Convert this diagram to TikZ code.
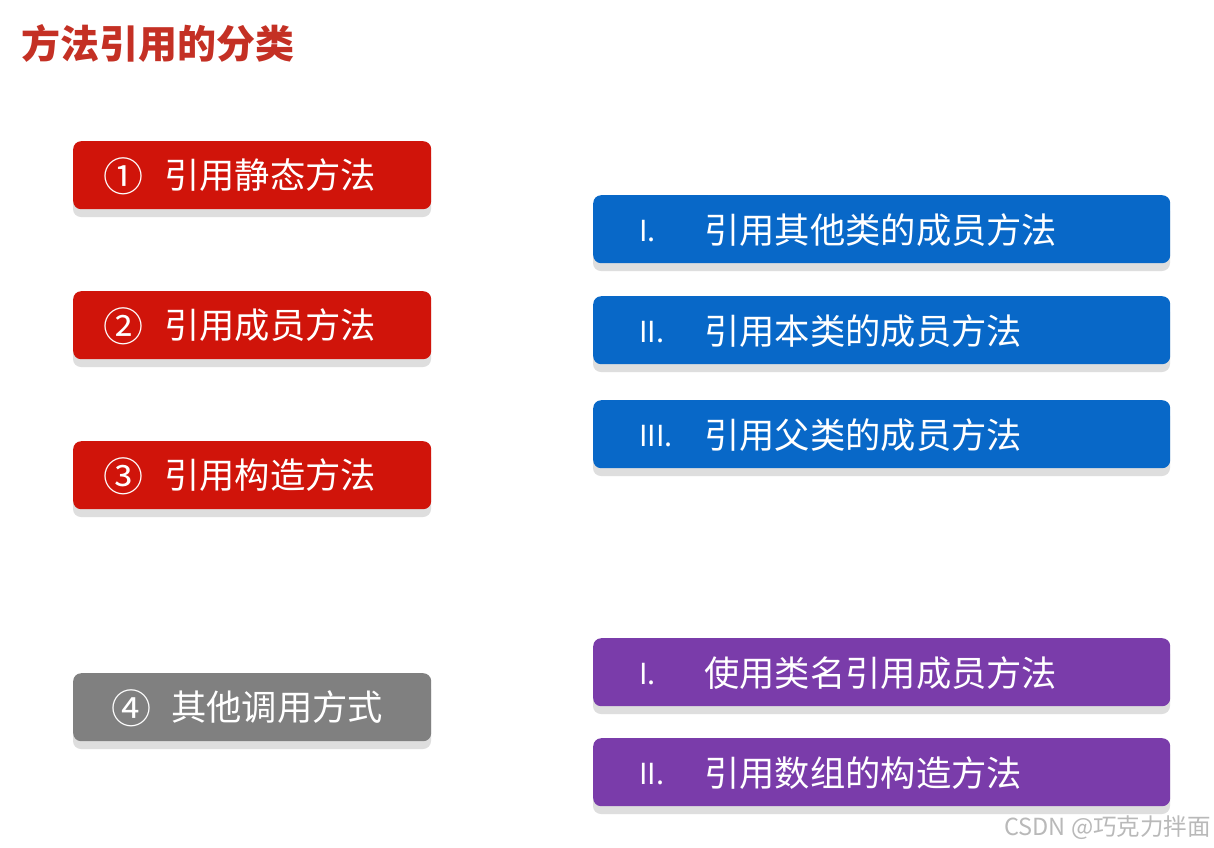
\documentclass[tikz,border=0pt]{standalone}
\usepackage{fontspec}
\newfontfamily\cjk{Noto Sans CJK SC}
\definecolor{titlered}{RGB}{196,48,36}
\definecolor{boxred}{RGB}{208,20,10}
\definecolor{boxblue}{RGB}{8,104,200}
\definecolor{boxpurple}{RGB}{122,60,170}
\definecolor{boxgray}{RGB}{128,128,128}
\definecolor{shadowgray}{RGB}{222,222,222}
\definecolor{wmgray}{RGB}{185,185,185}
\tikzset{
  card/.style={rounded corners=8pt, minimum height=68pt, inner sep=0pt, anchor=north west},
  cardtxt/.style={text=white, font=\cjk\fontsize{35.3}{40}\selectfont, inner sep=0pt, anchor=west},
  numtxt/.style={text=white, font=\cjk\fontsize{40}{44}\selectfont, inner sep=0pt, anchor=center},
  romtxt/.style={text=white, font=\cjk\fontsize{29}{34}\selectfont, inner sep=0pt, anchor=west},
}
\newcommand{\mkcard}[5]{% name, width, colour, x, y
  \fill[shadowgray, rounded corners=8pt] (#4,#5+8) rectangle ++(#2,68);
  \node[card, minimum width=#2pt, fill=#3] (#1) at (#4,#5) {};
}
\begin{document}
\begin{tikzpicture}[x=1pt,y=-1pt]
\useasboundingbox[fill=white] (0,0) rectangle (1214,847);
\node[anchor=west, inner sep=0pt, text=titlered, font=\cjk\bfseries\fontsize{39}{44}\selectfont] (title) at (21,43) {方法引用的分类};
% left column
\mkcard{r1}{358}{boxred}{73}{141}
\mkcard{r2}{358}{boxred}{73}{291}
\mkcard{r3}{358}{boxred}{73}{441}
\mkcard{g4}{358}{boxgray}{73}{673}
% right column
\mkcard{b1}{577}{boxblue}{593}{195}
\mkcard{b2}{577}{boxblue}{593}{296}
\mkcard{b3}{577}{boxblue}{593}{400}
\mkcard{p1}{577}{boxpurple}{593}{638}
\mkcard{p2}{577}{boxpurple}{593}{738}
% left texts
\node[numtxt] (r1n) at (123,176) {①};
\node[cardtxt] (r1t) at (164,175) {引用静态方法};
\node[numtxt] (r2n) at (123,326) {②};
\node[cardtxt] (r2t) at (164,325) {引用成员方法};
\node[numtxt] (r3n) at (123,476) {③};
\node[cardtxt] (r3t) at (164,475) {引用构造方法};
\node[numtxt] (g4n) at (131,708) {④};
\node[cardtxt] (g4t) at (171,707) {其他调用方式};
% right texts
\node[romtxt] (b1n) at (639,231) {I.};
\node[cardtxt] (b1t) at (704,230) {引用其他类的成员方法};
\node[romtxt] (b2n) at (639,332) {II.};
\node[cardtxt] (b2t) at (704,331) {引用本类的成员方法};
\node[romtxt] (b3n) at (639,436) {III.};
\node[cardtxt] (b3t) at (704,435) {引用父类的成员方法};
\node[romtxt] (p1n) at (639,674) {I.};
\node[cardtxt] (p1t) at (704,673) {使用类名引用成员方法};
\node[romtxt] (p2n) at (639,774) {II.};
\node[cardtxt] (p2t) at (704,773) {引用数组的构造方法};
% watermark
\node[anchor=east, inner sep=0pt, text=wmgray, font=\cjk\fontsize{23.5}{26}\selectfont] (wm) at (1211,828) {CSDN @巧克力拌面};
\end{tikzpicture}
\end{document}
